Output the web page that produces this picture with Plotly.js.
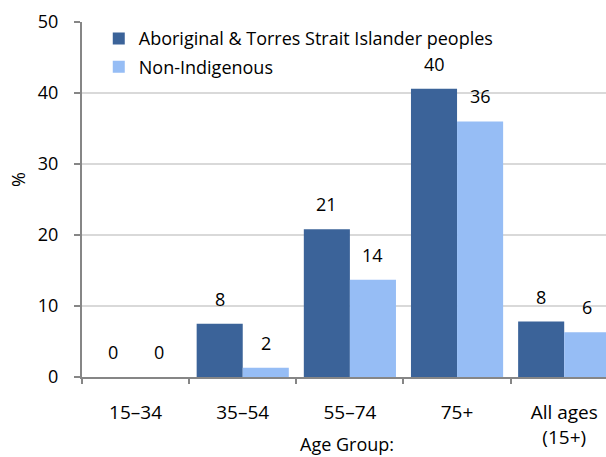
<!DOCTYPE html>
<html>
<head>
<meta charset="utf-8">
<script src="https://cdn.plot.ly/plotly-3.0.1.min.js"></script>
<style>html,body{margin:0;padding:0;background:#fff;}#chart{width:606px;height:457px;}</style>
</head>
<body>
<div id="chart"></div>
<script>
const categories = ["15–34", "35–54", "55–74", "75+", "All ages<br>(15+)"];
const seriesNames = ["Aboriginal & Torres Strait Islander peoples", "Non-Indigenous"];
const aboriginal = [0, 7.5, 20.8, 40.6, 7.8];
const nonIndigenous = [0, 1.3, 13.7, 36.0, 6.3];
const aboriginalLabels = ["0", "8", "21", "40", "8"];
const nonIndigenousLabels = ["0", "2", "14", "36", "6"];
const yTicks = [0, 10, 20, 30, 40, 50];
const xTitle = "Age Group:";
const yTitle = "%";

const FONT = "'Open Sans', sans-serif";
const darkColor = "#3b6399";
const lightColor = "#96bdf5";

const traces = [
  {
    type: "bar", name: seriesNames[0], x: categories, y: aboriginal, legendgroup: "a",
    marker: {color: darkColor, line: {width: 0}},
    hoverinfo: "none"
  },
  {
    type: "bar", name: seriesNames[1], x: categories, y: nonIndigenous, legendgroup: "b",
    marker: {color: lightColor, line: {width: 0}},
    hoverinfo: "none"
  }
];

const annotations = [];
categories.forEach((c, i) => {
  annotations.push({x: c, y: aboriginal[i], xref: "x", yref: "y", text: aboriginalLabels[i],
    showarrow: false, xshift: -23, yshift: 11, yanchor: "bottom",
    font: {family: FONT, size: 18, color: "#000"}});
  annotations.push({x: c, y: nonIndigenous[i], xref: "x", yref: "y", text: nonIndigenousLabels[i],
    showarrow: false, xshift: 23, yshift: 11, yanchor: "bottom",
    font: {family: FONT, size: 18, color: "#000"}});
});
annotations.push({x: 0.506, y: -0.188, xref: "paper", yref: "paper", text: xTitle,
  showarrow: false, xanchor: "center", yanchor: "middle",
  font: {family: FONT, size: 18, color: "#000"}});
annotations.push({x: (18 - 82) / 524, y: 0.555, xref: "paper", yref: "paper", text: yTitle,
  showarrow: false, xanchor: "center", yanchor: "middle", textangle: -90,
  font: {family: FONT, size: 18, color: "#000"}});

const layout = {
  width: 606, height: 457,
  margin: {l: 82, r: 0, t: 22, b: 80, pad: 0},
  paper_bgcolor: "#fff", plot_bgcolor: "#fff",
  font: {family: FONT, size: 18, color: "#000"},
  barmode: "group", bargap: 0.14, bargroupgap: 0,
  showlegend: true,
  legend: {x: 0.032, y: 1.005, xanchor: "left", yanchor: "top", bgcolor: "rgba(0,0,0,0)",
    font: {family: FONT, size: 18, color: "#000"}, itemwidth: 30,
    traceorder: "grouped", tracegroupgap: 2},
  xaxis: {
    type: "category", range: [-0.5, 4.39], fixedrange: true,
    showline: true, linecolor: "#868686", linewidth: 2,
    ticks: "outside", tickson: "boundaries", ticklen: 5, tickcolor: "#868686", tickwidth: 2,
    ticklabelstandoff: 17,
    tickfont: {family: FONT, size: 19, color: "#000"},
    showgrid: false, zeroline: false
  },
  yaxis: {
    range: [0, 50], tickvals: yTicks, fixedrange: true,
    showline: true, linecolor: "#868686", linewidth: 2,
    ticks: "outside", ticklen: 6, tickcolor: "#868686", tickwidth: 2,
    ticklabelstandoff: 12,
    tickfont: {family: FONT, size: 18, color: "#000"},
    showgrid: true, gridcolor: "#d9d9d9", gridwidth: 1.5, zeroline: false
  },
  annotations: annotations
};

Plotly.newPlot("chart", traces, layout, {displayModeBar: false, staticPlot: true});
</script>
</body>
</html>
